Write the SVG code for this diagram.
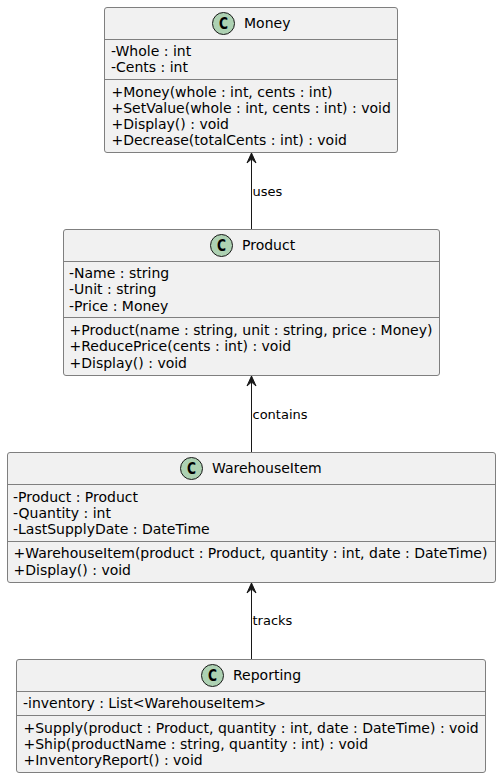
<svg xmlns="http://www.w3.org/2000/svg" width="501" height="778" viewBox="0 0 501 778">
<style>
.box{fill:#f1f1f1;stroke:#7f7f7f;stroke-width:1}
.sep{stroke:#7f7f7f;stroke-width:1}
.spot{fill:#add1b2;stroke:#181818;stroke-width:1}
text{font-family:"DejaVu Sans",sans-serif;font-size:14px;fill:#000}
text.c{font-size:16px;font-weight:bold;text-anchor:middle}
.lbl{font-size:13px}
.con{stroke:#181818;stroke-width:1;fill:none}
</style>
<defs><marker id="arr" markerUnits="userSpaceOnUse" markerWidth="12" markerHeight="12" refX="5" refY="0" viewBox="0 -1 10 12" overflow="visible" orient="0"><path d="M5 0 L0.5 10 L5 6 L9.5 10 Z" fill="#181818" stroke="#181818"/></marker></defs>
<g id="connectors">
<path class="con" d="M251.5 229V153" marker-end="url(#arr)"/>
<text class="lbl" x="252.5" y="196">uses</text>
<path class="con" d="M251.5 452V376" marker-end="url(#arr)"/>
<text class="lbl" x="252.5" y="419">contains</text>
<path class="con" d="M251.5 659V583" marker-end="url(#arr)"/>
<text class="lbl" x="252.5" y="625">tracks</text>
</g>
<g id="money">
<rect class="box" x="104.5" y="7.5" width="293" height="145" rx="2.5"/>
<path class="sep" d="M104.5 39.5H397.5M104.5 79.5H397.5"/>
<circle class="spot" cx="223.5" cy="23.5" r="11"/><text class="c" x="223.5" y="29.3" textLength="9" lengthAdjust="spacingAndGlyphs">C</text>
<text x="244" y="28">Money</text>
<text x="111" y="56">-Whole : int</text>
<text x="111" y="72">-Cents : int</text>
<text x="111.5" y="97">+Money(whole : int, cents : int)</text>
<text x="111.5" y="113">+SetValue(whole : int, cents : int) : void</text>
<text x="111.5" y="129">+Display() : void</text>
<text x="111.5" y="145">+Decrease(totalCents : int) : void</text>
</g>
<g id="product">
<rect class="box" x="63.5" y="229.5" width="376" height="146" rx="2.5"/>
<path class="sep" d="M63.5 261.5H439.5M63.5 317.5H439.5"/>
<circle class="spot" cx="221.5" cy="245.5" r="11"/><text class="c" x="221.5" y="251.3" textLength="9" lengthAdjust="spacingAndGlyphs">C</text>
<text x="242" y="250">Product</text>
<text x="69" y="278">-Name : string</text>
<text x="69" y="294">-Unit : string</text>
<text x="69" y="311">-Price : Money</text>
<text x="69.5" y="335">+Product(name : string, unit : string, price : Money)</text>
<text x="69.5" y="351">+ReducePrice(cents : int) : void</text>
<text x="69.5" y="368">+Display() : void</text>
</g>
<g id="warehouseitem">
<rect class="box" x="7.5" y="452.5" width="488" height="130" rx="2.5"/>
<path class="sep" d="M7.5 484.5H495.5M7.5 541.5H495.5"/>
<circle class="spot" cx="191.5" cy="468.5" r="11"/><text class="c" x="191.5" y="474.3" textLength="9" lengthAdjust="spacingAndGlyphs">C</text>
<text x="212" y="473">WarehouseItem</text>
<text x="13" y="502">-Product : Product</text>
<text x="13" y="518">-Quantity : int</text>
<text x="13" y="534">-LastSupplyDate : DateTime</text>
<text x="13.5" y="558">+WarehouseItem(product : Product, quantity : int, date : DateTime)</text>
<text x="13.5" y="575">+Display() : void</text>
</g>
<g id="reporting">
<rect class="box" x="16.5" y="659.5" width="469" height="113" rx="2.5"/>
<path class="sep" d="M16.5 691.5H485.5M16.5 715.5H485.5"/>
<circle class="spot" cx="212.5" cy="675.5" r="11"/><text class="c" x="212.5" y="681.3" textLength="9" lengthAdjust="spacingAndGlyphs">C</text>
<text x="233" y="680">Reporting</text>
<text x="23" y="708">-inventory : List&lt;WarehouseItem&gt;</text>
<text x="23.5" y="733">+Supply(product : Product, quantity : int, date : DateTime) : void</text>
<text x="23.5" y="749">+Ship(productName : string, quantity : int) : void</text>
<text x="23.5" y="765">+InventoryReport() : void</text>
</g>
</svg>
